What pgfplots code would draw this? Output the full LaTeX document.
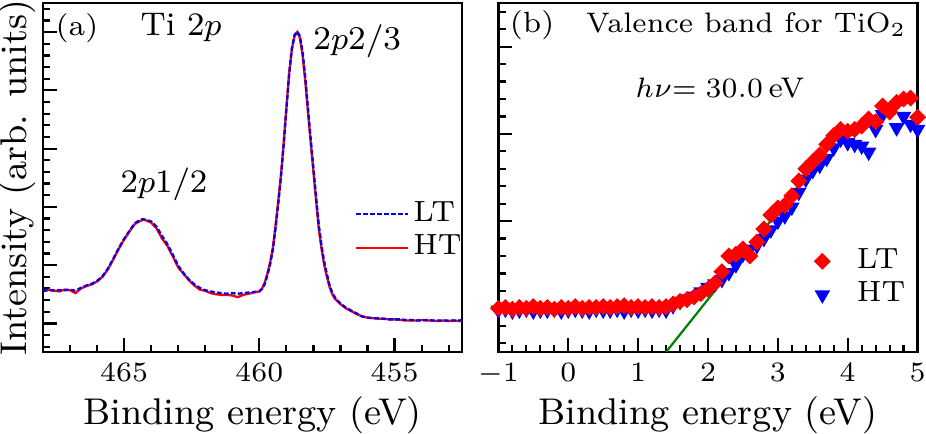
\documentclass[border=0pt]{standalone}
\usepackage{pgfplots}
\usepackage{pgfplotstable}
\pgfplotsset{compat=1.18}

\pgfplotstableread{
x y
468.0 0.56
467.8 0.57
467.6 0.57
467.4 0.57
467.2 0.57
467.0 0.58
466.8 0.56
466.6 0.61
466.4 0.65
466.2 0.68
466.0 0.73
465.8 0.81
465.6 0.94
465.4 1.11
465.2 1.29
465.0 1.45
464.8 1.59
464.6 1.72
464.4 1.78
464.3 1.79
464.2 1.78
464.0 1.75
463.8 1.66
463.6 1.50
463.4 1.36
463.2 1.18
463.0 0.99
462.8 0.86
462.6 0.75
462.4 0.67
462.2 0.61
462.0 0.57
461.8 0.55
461.6 0.53
461.4 0.52
461.2 0.51
461.0 0.52
460.8 0.51
460.6 0.52
460.4 0.53
460.2 0.54
460.0 0.55
459.9 0.59
459.8 0.68
459.7 0.83
459.6 1.02
459.5 1.27
459.4 1.64
459.3 2.06
459.2 2.52
459.1 3.07
459.0 3.68
458.9 4.27
458.8 4.71
458.7 4.95
458.6 5.01
458.5 4.93
458.4 4.65
458.3 4.22
458.2 3.68
458.1 3.16
458.0 2.66
457.9 2.16
457.8 1.68
457.7 1.33
457.6 1.05
457.5 0.84
457.4 0.65
457.3 0.52
457.2 0.44
457.0 0.34
456.8 0.27
456.6 0.22
456.4 0.17
456.2 0.12
456.0 0.10
455.8 0.09
455.6 0.09
455.4 0.08
455.2 0.07
455.0 0.07
454.8 0.07
454.6 0.06
454.4 0.06
454.2 0.05
454.0 0.05
453.8 0.06
453.6 0.05
453.4 0.05
453.2 0.05
453.0 0.05
452.8 0.05
452.6 0.05
452.5 0.06
}\ltA

\pgfplotstableread{
x y
468.0 0.55
467.8 0.58
467.6 0.56
467.4 0.55
467.2 0.58
467.0 0.57
466.8 0.52
466.6 0.60
466.4 0.64
466.2 0.67
466.0 0.72
465.8 0.80
465.6 0.93
465.4 1.10
465.2 1.28
465.0 1.44
464.8 1.58
464.6 1.71
464.4 1.76
464.3 1.78
464.2 1.77
464.0 1.73
463.8 1.63
463.6 1.46
463.4 1.33
463.2 1.15
463.0 0.96
462.8 0.85
462.6 0.74
462.4 0.65
462.2 0.58
462.0 0.56
461.8 0.52
461.6 0.50
461.4 0.49
461.2 0.49
461.0 0.48
460.8 0.45
460.6 0.49
460.4 0.51
460.2 0.53
460.0 0.55
459.9 0.60
459.8 0.70
459.7 0.86
459.6 1.05
459.5 1.30
459.4 1.68
459.3 2.10
459.2 2.55
459.1 3.10
459.0 3.70
458.9 4.28
458.8 4.70
458.7 4.93
458.6 5.00
458.5 4.90
458.4 4.60
458.3 4.15
458.2 3.62
458.1 3.10
458.0 2.60
457.9 2.10
457.8 1.62
457.7 1.28
457.6 1.00
457.5 0.80
457.4 0.62
457.3 0.50
457.2 0.42
457.0 0.33
456.8 0.26
456.6 0.21
456.4 0.16
456.2 0.12
456.0 0.10
455.8 0.09
455.6 0.08
455.4 0.08
455.2 0.07
455.0 0.07
454.8 0.06
454.6 0.05
454.4 0.05
454.2 0.05
454.0 0.06
453.8 0.05
453.6 0.05
453.4 0.04
453.2 0.05
453.0 0.04
452.8 0.05
452.6 0.04
452.5 0.05
}\htA

\pgfplotstableread{
x y
-1.0 0.00
-0.9 0.01
-0.8 -0.01
-0.7 0.01
-0.6 0.00
-0.5 0.02
-0.4 0.00
-0.3 0.01
-0.2 -0.01
-0.1 0.01
0.0 0.00
0.1 0.02
0.2 0.00
0.3 0.01
0.4 0.01
0.5 0.02
0.6 0.01
0.7 0.02
0.8 0.03
0.9 0.01
1.0 0.02
1.1 0.01
1.2 0.02
1.3 0.01
1.4 0.02
1.5 0.05
1.6 0.08
1.7 0.10
1.8 0.13
1.9 0.17
2.0 0.22
2.1 0.29
2.2 0.42
2.3 0.60
2.4 0.62
2.5 0.68
2.6 0.60
2.7 0.76
2.8 0.91
2.9 1.07
3.0 1.15
3.1 1.18
3.2 1.29
3.3 1.46
3.4 1.60
3.5 1.68
3.6 1.76
3.7 1.88
3.8 1.98
3.9 2.05
4.0 2.03
4.1 2.05
4.2 2.09
4.3 2.17
4.4 2.14
4.5 2.32
4.6 2.25
4.7 2.36
4.8 2.40
4.9 2.41
5.0 2.19
}\ltB

\pgfplotstableread{
x y
-1.0 -0.02
-0.9 -0.01
-0.8 -0.03
-0.7 -0.02
-0.6 -0.01
-0.5 -0.03
-0.4 -0.02
-0.3 -0.02
-0.2 -0.01
-0.1 -0.03
0.0 -0.02
0.1 -0.01
0.2 -0.02
0.3 -0.03
0.4 -0.01
0.5 -0.02
0.6 -0.02
0.7 -0.01
0.8 -0.03
0.9 -0.01
1.0 -0.02
1.1 -0.01
1.2 -0.02
1.3 -0.01
1.4 -0.02
1.5 0.03
1.6 0.08
1.7 0.11
1.8 0.14
1.9 0.19
2.0 0.24
2.1 0.28
2.2 0.33
2.3 0.41
2.4 0.50
2.5 0.62
2.6 0.68
2.7 0.72
2.8 0.80
2.9 0.90
3.0 1.00
3.1 1.06
3.2 1.16
3.3 1.33
3.4 1.48
3.5 1.58
3.6 1.64
3.7 1.72
3.8 1.84
3.9 1.94
4.0 1.90
4.1 1.88
4.2 1.86
4.3 1.79
4.4 2.05
4.5 2.22
4.6 2.30
4.7 2.07
4.8 2.20
4.9 2.11
5.0 2.05
}\htB

\begin{document}
\begin{tikzpicture}
\pgfplotsset{
  myaxis/.style={
    scale only axis, width=104.8pt, height=87.25pt,
    axis line style={line width=0.62pt},
    tick style={black, line width=0.55pt},
    major tick length=3.4pt, minor tick length=1.8pt,
    tick align=inside,
    xtick pos=left, ytick pos=left,
    yticklabels={},
    ticklabel style={font=\fontsize{7.1}{8}\selectfont},
    xticklabel style={inner sep=2.6pt},
    label style={font=\fontsize{9.3}{10}\selectfont},
    xlabel style={at={(axis description cs:0.5,0)}, anchor=center, inner sep=0pt, yshift=-15.9pt},
    xlabel={Binding energy (eV)},
  },
}
% Panel (a)
\begin{axis}[myaxis,
  at={(0pt,0pt)}, anchor=south west,
  x dir=reverse, xmin=452.5, xmax=468,
  ymin=-0.49, ymax=5.5,
  xtick={455,460,465},
  minor xtick={453,454,...,468},
  ytick={0,1,2,3,4,5},
  minor ytick={-0.4,-0.2,...,5.41},
  ylabel={Intensity (arb. units)},
  ylabel style={at={(axis description cs:-0.061,0.5)}, anchor=center, inner sep=0pt},
  reverse legend,
  legend style={at={(axis description cs:1.01,0.445)}, anchor=north east,
    draw=none, fill=none, inner sep=0pt, font=\fontsize{7.3}{8}\selectfont,
    nodes={inner sep=0.95pt}},
  legend cell align=left,
  legend image code/.code={\draw[#1] (0pt,0pt) -- (13pt,0pt);},
]
\addplot[red, line width=0.58pt, no markers] table {\htA};
\addlegendentry{HT}
\addplot[blue, line width=0.58pt, no markers, dash pattern=on 1.15pt off 0.6pt] table {\ltA};
\addlegendentry{LT}
\node[anchor=base west, inner sep=0pt, font=\fontsize{7.3}{8}\selectfont] at (axis cs:467.56,4.95) {(a)};
\node[anchor=base west, inner sep=0pt, font=\fontsize{8.2}{9}\selectfont] at (axis cs:464.42,4.95) {Ti 2$p$};
\node[anchor=base west, inner sep=0pt, font=\fontsize{8.3}{9}\selectfont] at (axis cs:458.03,4.71) {2$p$2/3};
\node[anchor=base west, inner sep=0pt, font=\fontsize{8.2}{9}\selectfont] at (axis cs:465.16,2.24) {2$p$1/2};
\end{axis}

% Panel (b)
\begin{axis}[myaxis,
  at={(113.85pt,0pt)}, anchor=south west,
  xmin=-1, xmax=5, ymin=-0.5, ymax=3.5,
  xtick={-1,0,1,2,3,4,5},
  minor xtick={-0.8,-0.6,...,4.9},
  ytick={0,1,2,3},
  minor ytick={-0.4,-0.2,...,3.41},
  clip mode=individual,
  reverse legend,
  legend style={at={(axis description cs:0.982,0.31)}, anchor=north east,
    draw=none, fill=none, inner sep=0pt, font=\fontsize{7.3}{8}\selectfont,
    nodes={inner sep=0.95pt}},
  legend cell align=left,
  legend image code/.code={\draw[#1] plot coordinates {(0pt,0pt)}; \path (-1.8pt,0pt) (7.5pt,0pt);},
]
\addplot[green!50!black, line width=0.55pt, no markers, forget plot] coordinates {(1.4,-0.5) (3.86,1.97)};
\addplot[only marks, mark=triangle*, mark size=1.85pt, mark options={rotate=180, blue, draw=blue, fill=blue}] table {\htB};
\addlegendentry{HT}
\addplot[only marks, mark=square*, mark size=1.3pt, mark options={rotate=45, red, draw=red, fill=red}] table {\ltB};
\addlegendentry{LT}
\node[anchor=base west, inner sep=0pt, font=\fontsize{7.3}{8}\selectfont] at (axis cs:-0.846,3.16) {(b)};
\node[anchor=base east, inner sep=0pt, font=\fontsize{7.05}{9}\selectfont] at (axis cs:4.85,3.16) {Valence band for TiO$_2$};
\node[anchor=base, inner sep=0pt, font=\fontsize{7.1}{9}\selectfont] at (axis cs:2.17,2.42) {$h\nu{=}\;30.0\,$eV};
\end{axis}
\pgfresetboundingbox
\path[use as bounding box] (-10.75pt,-20.5pt) rectangle (220.75pt,88pt);
\end{tikzpicture}
\end{document}
